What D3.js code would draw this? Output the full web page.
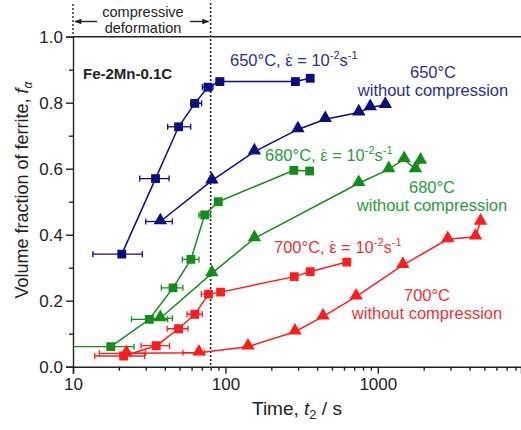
<!DOCTYPE html>
<meta charset="utf-8">
<style>
body { margin: 0; background: #fff; }
svg { font-family: Arial, "Liberation Sans", sans-serif; }
.axis path, .axis line { stroke: #222; stroke-width: 1.4px; }
.axis text { font-size: 17px; fill: #222; font-family: Arial, "Liberation Sans", sans-serif; }
.lbl { font-size: 16.5px; }
</style>
<svg width="521" height="430"></svg>
<script src="https://cdn.jsdelivr.net/npm/d3@7"></script>
<script>

// 650 C with compression (squares)
var b_sq_t  = [20.9, 34.8, 49.3, 63, 76.8, 92, 288, 360];
var b_sq_f  = [0.341, 0.57, 0.727, 0.798, 0.847, 0.864, 0.864, 0.874];
var b_sq_lo = [13.5, 27.4, 41.8, 59.2, 70.6, 87, null, null];
var b_sq_hi = [28.5, 42.7, 59.2, 69.8, 82.8, 97, null, null];
// 650 C without compression (triangles)
var b_tr_t  = [37.4, 81.5, 155, 299, 452, 750, 892, 1120];
var b_tr_f  = [0.44, 0.564, 0.652, 0.719, 0.75, 0.77, 0.786, 0.793];
var b_tr_lo = [30, 78, null, null, null, null, null, null];
var b_tr_hi = [44.9, 85, null, null, null, null, null, null];

// 680 C
var g_sq_t  = [17.7, 31.7, 45.3, 59.4, 73.1, 89.8, 281, 357];
var g_sq_f  = [0.0606, 0.1436, 0.239, 0.325, 0.46, 0.5, 0.595, 0.593];
var g_sq_lo = [9, 24.2, 38, 52.2, 67, null, null, null];
var g_sq_hi = [25.1, 41.8, 52.6, 67, 79.6, null, null, null];
var g_tr_t  = [37.4, 81.5, 155, 750, 1180, 1489, 1766, 1905];
var g_tr_f  = [0.1467, 0.283, 0.389, 0.556, 0.598, 0.629, 0.598, 0.624];
var g_tr_lo = [30, null, null, null, null, null, null, null];
var g_tr_hi = [44.9, null, null, null, null, null, null, null];

// 700 C
var r_sq_t  = [21.5, 35.2, 49.3, 63, 77.5, 93, 283, 360, 626];
var r_sq_f  = [0.0324, 0.0636, 0.115, 0.159, 0.22, 0.226, 0.273, 0.288, 0.317];
var r_sq_lo = [13.9, 28, 41.5, 56, 69.5, null, null, null, null];
var r_sq_hi = [29.5, 43, 56.8, 70.6, 82, null, null, null, null];
var r_tr_t  = [22.4, 67, 140.6, 286, 437, 721, 1459, 2877, 4375, 4720];
var r_tr_f  = [0.0404, 0.0424, 0.0606, 0.106, 0.1515, 0.212, 0.308, 0.386, 0.394, 0.439];
var r_tr_lo = [14.9, 52.6, null, null, null, null, null, null, null, null];
var r_tr_hi = [29.9, 73, null, null, null, null, null, null, null, null];

var xMajor = [10, 100, 1000];
var xMinor = [20,30,40,50,60,70,80,90,200,300,400,500,600,700,800,900,2000,3000,4000,5000,6000,7000,8000];
var yMajor = [0, 0.2, 0.4, 0.6, 0.8, 1.0];
var yMinor = [0.1, 0.3, 0.5, 0.7, 0.9];
var deformEnd = 80;

var navy = "#0c0c82", green = "#138c18", red = "#ff1c1c";
var navyT = "#2e2e8c", greenT = "#2a9a3c", redT = "#e83434";

var svg = d3.select("svg");
var x = d3.scaleLog().domain([10, 8700]).range([73, 521]);
var y = d3.scaleLinear().domain([0, 1]).range([366.7, 36.7]);

svg.append("defs").append("clipPath").attr("id", "clip")
  .append("rect").attr("x", x(10)).attr("y", 0).attr("width", 521 - x(10)).attr("height", y(0));
svg.select("defs").append("marker").attr("id", "arr")
  .attr("viewBox", "0 0 10 10").attr("refX", 9).attr("refY", 5)
  .attr("markerWidth", 9).attr("markerHeight", 7).attr("orient", "auto-start-reverse")
  .attr("markerUnits", "userSpaceOnUse")
  .append("path").attr("d", "M0,1 L10,5 L0,9 Z").attr("fill", "#222");

// axes
svg.append("g").attr("class", "axis").attr("transform", "translate(0," + y(0) + ")")
  .call(d3.axisBottom(x).tickValues(xMajor).tickFormat(d3.format("d")).tickSize(7).tickPadding(4));
svg.append("g").attr("class", "axis").attr("transform", "translate(0," + y(0) + ")")
  .call(d3.axisBottom(x).tickValues(xMinor).tickFormat("").tickSize(4))
  .select(".domain").remove();
svg.append("g").attr("class", "axis").attr("transform", "translate(" + x(10) + ",0)")
  .call(d3.axisLeft(y).tickValues(yMajor).tickFormat(d3.format(".1f")).tickSize(7).tickPadding(3));
svg.append("g").attr("class", "axis").attr("transform", "translate(" + x(10) + ",0)")
  .call(d3.axisLeft(y).tickValues(yMinor).tickFormat("").tickSize(4))
  .select(".domain").remove();

// top line at 1.0
svg.append("line").attr("x1", x(10)).attr("x2", 521).attr("y1", y(1)).attr("y2", y(1))
  .attr("stroke", "#222").attr("stroke-width", 1.4);

// dotted lines
svg.append("line").attr("x1", x(deformEnd)).attr("x2", x(deformEnd)).attr("y1", 3).attr("y2", y(0))
  .attr("stroke", "#222").attr("stroke-width", 1.6).attr("stroke-dasharray", "2,2");
svg.append("line").attr("x1", x(10)).attr("x2", x(10)).attr("y1", 4).attr("y2", y(1))
  .attr("stroke", "#222").attr("stroke-width", 1.4).attr("stroke-dasharray", "2,2");

// arrows + deformation label
svg.append("line").attr("x1", 97).attr("x2", x(10) + 2).attr("y1", 21.5).attr("y2", 21.5)
  .attr("stroke", "#222").attr("stroke-width", 1.4).attr("marker-end", "url(#arr)");
svg.append("line").attr("x1", 190).attr("x2", x(deformEnd) - 2).attr("y1", 21.5).attr("y2", 21.5)
  .attr("stroke", "#222").attr("stroke-width", 1.4).attr("marker-end", "url(#arr)");
svg.append("text").attr("x", 143).attr("y", 16.5).attr("text-anchor", "middle")
  .attr("font-size", 14.5).attr("fill", "#222").text("compressive");
svg.append("text").attr("x", 143).attr("y", 32.5).attr("text-anchor", "middle")
  .attr("font-size", 14.5).attr("fill", "#222").text("deformation");

// axis titles
var xt = svg.append("text").attr("x", 252).attr("y", 415).attr("font-size", 19).attr("fill", "#222");
xt.append("tspan").text("Time, ");
xt.append("tspan").attr("font-style", "italic").text("t");
xt.append("tspan").attr("font-size", 13).attr("dy", 4).text("2");
xt.append("tspan").attr("dy", -4).text(" / s");

var yt = svg.append("text").attr("transform", "translate(28,190) rotate(-90)")
  .attr("text-anchor", "middle").attr("font-size", 18).attr("fill", "#222");
yt.append("tspan").text("Volume fraction of ferrite, ");
yt.append("tspan").attr("font-style", "italic").text("f");
yt.append("tspan").attr("font-style", "italic").attr("font-size", 12).attr("dy", 4).text("α");

svg.append("text").attr("x", 83).attr("y", 79).attr("font-size", 15).attr("font-weight", "bold")
  .attr("fill", "#222").text("Fe-2Mn-0.1C");

// series
var plot = svg.append("g").attr("clip-path", "url(#clip)");
var line = d3.line().x(function(d) { return x(d.t); }).y(function(d) { return y(d.f); });

function series(ts, fs, lo, hi, color, shape) {
  var data = ts.map(function(t, i) { return {t: t, f: fs[i], lo: lo[i], hi: hi[i]}; });
  var g = plot.append("g");
  g.append("path").datum(data).attr("d", line).attr("fill", "none")
    .attr("stroke", color).attr("stroke-width", 1.5);
  var eb = g.selectAll(".eb").data(data.filter(function(d) { return d.lo != null; })).enter().append("g");
  eb.append("line").attr("x1", function(d) { return x(d.lo); }).attr("x2", function(d) { return x(d.hi); })
    .attr("y1", function(d) { return y(d.f); }).attr("y2", function(d) { return y(d.f); })
    .attr("stroke", color).attr("stroke-width", 1.3);
  ["lo", "hi"].forEach(function(k) {
    eb.append("line").attr("x1", function(d) { return x(d[k]); }).attr("x2", function(d) { return x(d[k]); })
      .attr("y1", function(d) { return y(d.f) - 3; }).attr("y2", function(d) { return y(d.f) + 3; })
      .attr("stroke", color).attr("stroke-width", 1.3);
  });
  var sym = d3.symbol().type(shape === "sq" ? d3.symbolSquare : d3.symbolTriangle).size(78);
  g.selectAll(".pt").data(data).enter().append("path")
    .attr("transform", function(d) { return "translate(" + x(d.t) + "," + (y(d.f) + (shape === "sq" ? 0 : -1)) + ")"; })
    .attr("d", sym).attr("fill", color);
}

series(b_sq_t, b_sq_f, b_sq_lo, b_sq_hi, navy, "sq");
series(b_tr_t, b_tr_f, b_tr_lo, b_tr_hi, navy, "tr");
series(g_sq_t, g_sq_f, g_sq_lo, g_sq_hi, green, "sq");
series(g_tr_t, g_tr_f, g_tr_lo, g_tr_hi, green, "tr");
series(r_sq_t, r_sq_f, r_sq_lo, r_sq_hi, red, "sq");
series(r_tr_t, r_tr_f, r_tr_lo, r_tr_hi, red, "tr");

// labels
function rateLabel(px, py, temp, color) {
  var t = svg.append("text").attr("class", "lbl").attr("x", px).attr("y", py).attr("fill", color);
  var head = temp + "°C, ε";
  t.append("tspan").text(head);
  // dot over the epsilon (strain rate), kept inside the same text element
  var ext = t.node().getExtentOfChar(head.length - 1);
  t.append("tspan").attr("x", ext.x + ext.width / 2).attr("text-anchor", "middle").text("\u02D9");
  t.append("tspan").attr("x", ext.x + ext.width).attr("text-anchor", "start").text(" = 10");
  t.append("tspan").attr("font-size", 11).attr("dy", -7).text("-2");
  t.append("tspan").attr("dy", 7).text("s");
  t.append("tspan").attr("font-size", 11).attr("dy", -7).text("-1");
}
function plainLabel(cx, py, temp, color) {
  svg.append("text").attr("class", "lbl").attr("x", cx).attr("y", py).attr("text-anchor", "middle")
    .attr("fill", color).text(temp + "°C");
  svg.append("text").attr("class", "lbl").attr("x", cx).attr("y", py + 17.5).attr("text-anchor", "middle")
    .attr("fill", color).text("without compression");
}
rateLabel(230, 66, 650, navyT);
plainLabel(433, 78, 650, navyT);
rateLabel(265, 161, 680, greenT);
plainLabel(432, 193, 680, greenT);
rateLabel(274, 253, 700, redT);
plainLabel(427, 301, 700, redT);
</script>
